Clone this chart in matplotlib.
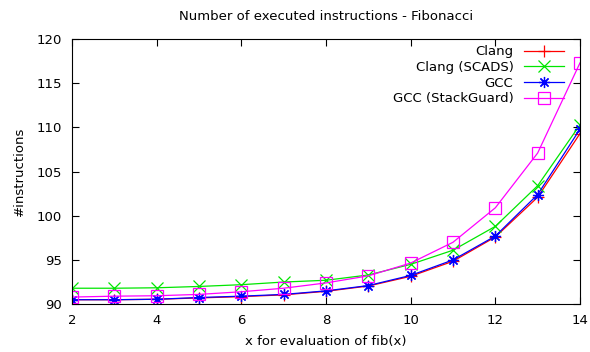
import matplotlib.pyplot as plt

# data
x_vals = [2, 3, 4, 5, 6, 7, 8, 9, 10, 11, 12, 13, 14]
clang = [90.5, 90.5, 90.55, 90.7, 90.85, 91.05, 91.45, 92.05, 93.15, 94.85, 97.6, 102.1, 109.3]
clang_scads = [91.8, 91.8, 91.85, 92.0, 92.2, 92.5, 92.7, 93.3, 94.5, 96.1, 98.8, 103.4, 110.3]
gcc = [90.5, 90.5, 90.55, 90.75, 90.9, 91.1, 91.5, 92.1, 93.25, 95.0, 97.7, 102.4, 109.8]
gcc_stackguard = [90.8, 90.9, 90.95, 91.1, 91.4, 91.8, 92.4, 93.2, 94.65, 97.0, 100.9, 107.1, 117.3]

labels = ["Clang", "Clang (SCADS)", "GCC", "GCC (StackGuard)"]
series = [clang, clang_scads, gcc, gcc_stackguard]
colors = ["#ff0000", "#00e600", "#0000ff", "#ff00ff"]
markers = ["+", "x", (8, 2, 0), "s"]

plt.rcParams['font.family'] = 'DejaVu Sans'
fig = plt.figure(figsize=(5.9, 3.52), dpi=100)
ax = fig.add_axes([0.122, 0.136, 0.861, 0.753])

for vals, lab, col, mk in zip(series, labels, colors, markers):
    ax.plot(x_vals, vals, color=col, linewidth=0.9, marker=mk, markersize=8,
            markerfacecolor='none', markeredgecolor=col, markeredgewidth=0.9,
            label=lab)

ax.set_xlim(2, 14)
ax.set_ylim(90, 120)
ax.set_xticks(range(2, 15, 2))
ax.set_yticks(range(90, 121, 5))
ax.tick_params(direction='in', top=True, right=True, labelsize=9.5, length=5, pad=7)
ax.set_xlabel("x for evaluation of fib(x)", fontsize=9.5, labelpad=6)
ax.set_ylabel("#instructions", fontsize=9.5, labelpad=8)
ax.set_title("Number of executed instructions - Fibonacci", fontsize=9.5, pad=14)

ax.legend(loc='upper right', bbox_to_anchor=(0.986, 1.011), frameon=False,
          markerfirst=False, fontsize=9.5, handlelength=3, labelspacing=0.2,
          borderaxespad=0.3, handletextpad=0.8)

fig.savefig("out.png", dpi=100)
